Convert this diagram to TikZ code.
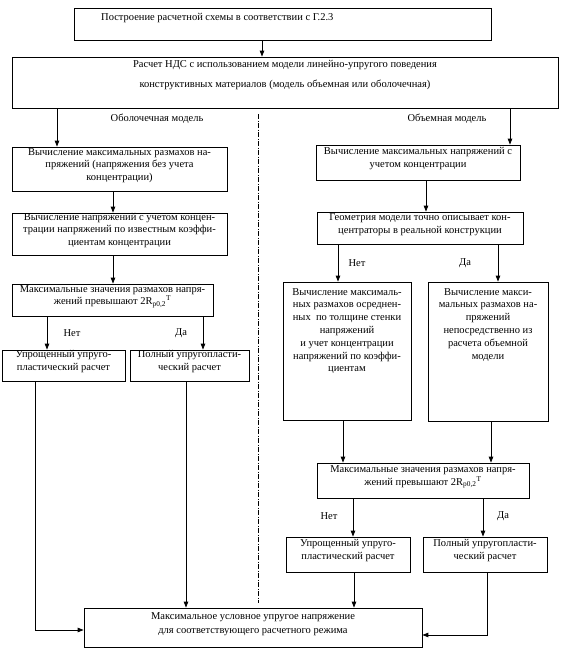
\documentclass[tikz,border=0pt]{standalone}
\usepackage{fontspec}
\setmainfont{Liberation Serif}
\usetikzlibrary{arrows.meta,fit}
\begin{document}
\begin{tikzpicture}[x=1pt,y=-1pt,
  box/.style={draw, line width=0.8pt, inner sep=0pt, align=center, font=\fontsize{10.5}{12.8}\selectfont},
  txt/.style={align=center, inner sep=0pt, font=\fontsize{10.5}{12.8}\selectfont},
  arr/.style={-{Triangle[length=6pt,width=4.5pt]}, line width=0.9pt},
  dashdot/.style={line width=0.7pt, dash pattern=on 5pt off 1.5pt on 1pt off 1.5pt}]
\fill[white] (0,0) rectangle (579,657);
\useasboundingbox (0,0) rectangle (579,657);

% top boxes
\node[box, fit={(74,8)(491,40)}] (b0) {};
\node[txt, anchor=west] (t0) at (101,18.5) {Построение расчетной схемы в соответствии с Г.2.3};
\node[box, fit={(12,57)(558,108)}] (b1) {};
\node[txt, font=\fontsize{10.5}{19.5}\selectfont] (t1) at (285,75) {Расчет НДС с использованием модели линейно-упругого поведения\\конструктивных материалов (модель объемная или оболочечная)};

\node[txt] (lshell) at (157,119) {Оболочечная модель};
\node[txt] (lvol) at (447,119) {Объемная модель};

% left column
\node[box, fit={(12,147)(227,191)}] (a1) {Вычисление максимальных размахов на-\\пряжений (напряжения без учета\\концентрации)};
\node[box, fit={(12,213)(227,255)}] (a2) {Вычисление напряжений с учетом концен-\\трации напряжений по известным коэффи-\\циентам концентрации};
\node[box, fit={(12,284)(213,316)}] (a3) {Максимальные значения размахов напря-\\жений превышают 2R\textsubscript{p0,2}\textsuperscript{Т}};
\node[box, fit={(2,350)(125,381)}] (a4) {Упрощенный упруго-\\пластический расчет};
\node[box, fit={(130,350)(249,381)}] (a5) {Полный упругопласти-\\ческий расчет};
\node[txt] (ln1) at (72,333) {Нет};
\node[txt] (ly1) at (181,333) {Да};

% right column
\node[box, fit={(316,145)(520,180)}] (c1) {Вычисление максимальных напряжений с\\учетом концентрации};
\node[box, fit={(317,212)(523,244)}] (c2) {Геометрия модели точно описывает кон-\\центраторы в реальной конструкции};
\node[box, fit={(283,282)(411,420)}] (c3) {};
\node[txt, anchor=north] (t3) at (347,288) {Вычисление максималь-\\ных размахов осреднен-\\ных \ по толщине стенки\\напряжений\\и учет концентрации\\напряжений по коэффи-\\циентам};
\node[box, fit={(428,282)(548,421)}] (c4) {};
\node[txt, anchor=north] (t4) at (488,288) {Вычисление макси-\\мальных размахов на-\\пряжений\\непосредственно из\\расчета объемной\\модели};
\node[box, fit={(317,463)(529,498)}] (c5) {Максимальные значения размахов напря-\\жений превышают 2R\textsubscript{p0,2}\textsuperscript{Т}};
\node[box, fit={(286,537)(410,572)}] (c6) {Упрощенный упруго-\\пластический расчет};
\node[box, fit={(423,537)(547,572)}] (c7) {Полный упругопласти-\\ческий расчет};
\node[txt] (ln2) at (357,263) {Нет};
\node[txt] (ly2) at (465,263) {Да};
\node[txt] (ln3) at (329,516) {Нет};
\node[txt] (ly3) at (503,516) {Да};

% final box
\node[box, fit={(84,608)(422,647)}, font=\fontsize{10.5}{14.5}\selectfont] (f) {Максимальное условное упругое напряжение\\для соответствующего расчетного режима};

% dash-dot separator
\coordinate (sepT) at (258,114);
\coordinate (sepB) at (258,603);
\draw[dashdot] (sepT) -- (sepB);

% connector x positions
\coordinate (x0) at (262,0);
\coordinate (xl) at (57,0);
\coordinate (xr) at (510,0);
\coordinate (xa) at (113,0);
\coordinate (xa3l) at (47,0);
\coordinate (xa3r) at (203,0);
\coordinate (xa5) at (186,0);
\coordinate (pl) at (35,630);
\coordinate (xc) at (426,0);
\coordinate (xc2l) at (338,0);
\coordinate (xc2r) at (498,0);
\coordinate (xc3) at (343,0);
\coordinate (xc4) at (491,0);
\coordinate (xc5l) at (353,0);
\coordinate (xc5r) at (483,0);
\coordinate (xc6) at (354,0);
\coordinate (pr) at (487,635);

\draw[arr] (b0.south -| x0) -- (b1.north -| x0);
\draw[arr] (b1.south -| xl) -- (a1.north -| xl);
\draw[arr] (b1.south -| xr) -- (c1.north -| xr);
\draw[arr] (a1.south -| xa) -- (a2.north -| xa);
\draw[arr] (a2.south -| xa) -- (a3.north -| xa);
\draw[arr] (a3.south -| xa3l) -- (a4.north -| xa3l);
\draw[arr] (a3.south -| xa3r) -- (a5.north -| xa3r);
\draw[arr] (a4.south -| pl) -- (pl) -- (f.west |- pl);
\draw[arr] (a5.south -| xa5) -- (f.north -| xa5);
\draw[arr] (c1.south -| xc) -- (c2.north -| xc);
\draw[arr] (c2.south -| xc2l) -- (c3.north -| xc2l);
\draw[arr] (c2.south -| xc2r) -- (c4.north -| xc2r);
\draw[arr] (c3.south -| xc3) -- (c5.north -| xc3);
\draw[arr] (c4.south -| xc4) -- (c5.north -| xc4);
\draw[arr] (c5.south -| xc5l) -- (c6.north -| xc5l);
\draw[arr] (c5.south -| xc5r) -- (c7.north -| xc5r);
\draw[arr] (c6.south -| xc6) -- (f.north -| xc6);
\draw[arr] (c7.south -| pr) -- (pr) -- (f.east |- pr);
\end{tikzpicture}
\end{document}
